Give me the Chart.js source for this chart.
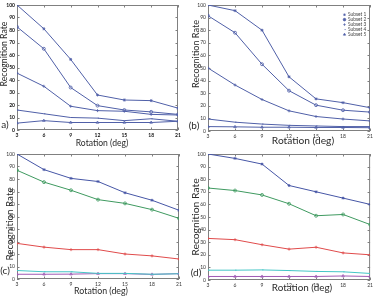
<!DOCTYPE html>
<html><head><meta charset="utf-8">
<script src="https://cdn.jsdelivr.net/npm/chart.js@4/dist/chart.umd.min.js"></script>
<style>
html,body{margin:0;padding:0;background:#fff;width:375px;height:298px;overflow:hidden;position:relative}
.p{position:absolute}
.t{position:absolute;font-family:Lato,sans-serif;color:#2a2a2a;line-height:1;white-space:nowrap;transform:translate(-50%,-50%)}
.r{transform:translate(-50%,-50%) rotate(-90deg)}
</style></head><body>
<div class="p" style="left:0;top:0;width:187px;height:149px"><canvas id="ca" width="187" height="149"></canvas></div>
<div class="p" style="left:187px;top:0;width:188px;height:149px"><canvas id="cb" width="188" height="149"></canvas></div>
<div class="p" style="left:0;top:149px;width:187px;height:149px"><canvas id="cc" width="187" height="149"></canvas></div>
<div class="p" style="left:187px;top:149px;width:188px;height:149px"><canvas id="cd" width="188" height="149"></canvas></div>

<div class="t r" style="left:4px;top:54px;font-size:8.7px">Recognition Rate</div>
<div class="t r" style="left:196px;top:54px;font-size:9.1px">Recognition Rate</div>
<div class="t r" style="left:10px;top:224px;font-size:9.8px">Recognition Rate</div>
<div class="t r" style="left:195px;top:217px;font-size:10.4px">Recognition Rate</div>

<div class="t" style="left:102px;top:143px;font-size:8.6px">Rotation (deg)</div>
<div class="t" style="left:303px;top:140px;font-size:10.2px">Rotation (deg)</div>
<div class="t" style="left:101px;top:291px;font-size:8.8px">Rotation (deg)</div>
<div class="t" style="left:302px;top:288px;font-size:9.9px">Rotation (deg)</div>

<div class="t" style="left:5px;top:124px;font-size:10px">a)</div>
<div class="t" style="left:194px;top:124.5px;font-size:10px">(b)</div>
<div class="t" style="left:5px;top:269.5px;font-size:10px">(c)</div>
<div class="t" style="left:196px;top:272px;font-size:10px">(d)</div>

<script>
// ---- data ----
const rotation = [3, 6, 9, 12, 15, 18, 21];
const xTicks = [3, 6, 9, 12, 15, 18, 21];
const yTicks = [0, 10, 20, 30, 40, 50, 60, 70, 80, 90, 100];
const subsetNames = ['Subset 1', 'Subset 2', 'Subset 3', 'Subset 4', 'Subset 5'];

const a1 = [100, 81, 56.5, 28, 24, 23.5, 17.5];
const a2 = [82.5, 65, 34, 19.5, 16, 14.5, 12.5];
const a3 = [45.5, 35, 19, 15.5, 15, 12.5, 12];
const a4 = [16, 13, 10, 9.5, 7.5, 9, 7];
const a5 = [5.5, 7.5, 6, 6, 6, 6, 7];

const b1 = [100, 95.5, 80, 43, 25.5, 22.5, 18.5];
const b2 = [91.5, 78, 53, 32, 20.5, 16.5, 15];
const b3 = [50, 36.5, 25, 16, 11.5, 9.5, 8];
const b4 = [9.5, 7, 5.5, 4.5, 4, 3.5, 3.5];
const b5 = [3.5, 3.3, 3, 3, 2.8, 2.8, 2.6];

const c1 = [100, 87.5, 80.5, 78, 69, 63, 55];
const c2 = [87, 77.5, 71, 63.5, 60.5, 55.5, 48.5];
const c3 = [28.5, 25.5, 23.5, 23.5, 20, 18.5, 16];
const c4 = [6.8, 5.8, 5.8, 4.5, 4.5, 3.8, 4.2];
const c5 = [3.8, 3.8, 3.9, 4.3, 4.3, 3.7, 4.3];

const d1 = [100, 96.5, 92, 75, 70, 65, 60];
const d2 = [73, 71, 67.5, 60.5, 51, 52, 44];
const d3 = [33, 32, 28, 24.5, 26, 21.5, 20];
const d4 = [7.8, 7.8, 8, 7.5, 6.8, 6.5, 5.2];
const d5 = [2.8, 2.8, 2.8, 2.8, 2.8, 3.2, 2.8];

// ---- styles ----
const markerStyles = ['star', 'circle', 'cross', 'dash', 'triangle'];
const blueAll = ['#5060a8', '#5060a8', '#5060a8', '#5060a8', '#5060a8'];
const matlabColors = ['#4656a6', '#3f9a60', '#e04b4b', '#45c6c6', '#a05ab4'];

const boxPlugin = {
  id: 'box',
  beforeDatasetsDraw(chart) {
    const {ctx, chartArea: {left, right, top, bottom}, scales: {x, y}} = chart;
    ctx.save();
    ctx.strokeStyle = '#808080';
    ctx.lineWidth = 1;
    ctx.strokeRect(left + 0.5, top + 0.5, right - left - 1, bottom - top - 1);
    ctx.beginPath();
    x.ticks.forEach(t => {
      const px = Math.round(x.getPixelForValue(t.value)) + 0.5;
      ctx.moveTo(px, bottom); ctx.lineTo(px, bottom - 2.5);
      ctx.moveTo(px, top); ctx.lineTo(px, top + 2.5);
    });
    y.ticks.forEach(t => {
      const py = Math.round(y.getPixelForValue(t.value)) + 0.5;
      ctx.moveTo(left, py); ctx.lineTo(left + 2.5, py);
      ctx.moveTo(right, py); ctx.lineTo(right - 2.5, py);
    });
    ctx.stroke();
    ctx.restore();
  }
};

const legendPlugin = {
  id: 'innerLegend',
  afterDraw(chart, args, opts) {
    if (!opts || !opts.show) return;
    const ctx = chart.ctx;
    ctx.save();
    ctx.font = '4.8px Lato, sans-serif';
    ctx.fillStyle = '#444';
    ctx.textBaseline = 'middle';
    chart.data.datasets.forEach((ds, i) => {
      const yy = opts.y0 + i * opts.dy;
      ctx.strokeStyle = ds.borderColor;
      ctx.fillStyle = ds.borderColor;
      ctx.lineWidth = 0.7;
      Chart.helpers.drawPoint(ctx, {pointStyle: ds.pointStyle, radius: 1.3, rotation: 0, borderWidth: 0.7}, opts.x0, yy);
      ctx.fillStyle = '#444';
      ctx.fillText(ds.label, opts.x0 + 3.5, yy);
    });
    ctx.restore();
  }
};

function makePanel(id, series, colors, o) {
  const datasets = series.map((vals, i) => ({
    label: subsetNames[i],
    data: vals.map((v, k) => ({x: rotation[k], y: v})),
    borderColor: colors[i],
    backgroundColor: 'rgba(0,0,0,0)',
    pointBackgroundColor: 'rgba(0,0,0,0)',
    pointBorderColor: colors[i],
    borderWidth: 1,
    pointStyle: markerStyles[i],
    pointRadius: 1.5,
    pointBorderWidth: 0.8,
    tension: 0
  }));
  const tickFont = {family: 'Lato, sans-serif', size: 5, weight: o.bold ? 'bold' : 'normal'};
  return new Chart(document.getElementById(id), {
    type: 'line',
    data: {datasets},
    options: {
      responsive: false, animation: false, devicePixelRatio: 1,
      layout: {padding: {left: 0, top: o.top, right: o.right, bottom: 0}},
      plugins: {legend: {display: false}, tooltip: {enabled: false}, innerLegend: o.legend || {show: false}},
      scales: {
        x: {
          type: 'linear', min: 3, max: 21,
          afterBuildTicks: s => { s.ticks = xTicks.map(v => ({value: v})); },
          afterFit: s => { s.height = o.xh; },
          grid: {display: false, drawTicks: false}, border: {display: false},
          ticks: {font: tickFont, color: o.tickColor, padding: 2, maxRotation: 0, autoSkip: false}
        },
        y: {
          type: 'linear', min: 0, max: 100,
          afterBuildTicks: s => { s.ticks = yTicks.map(v => ({value: v})); },
          afterFit: s => { s.width = o.yw; },
          grid: {display: false, drawTicks: false}, border: {display: false},
          ticks: {font: tickFont, color: o.tickColor, padding: 2, autoSkip: false}
        }
      }
    },
    plugins: [boxPlugin, legendPlugin]
  });
}

makePanel('ca', [a1, a2, a3, a4, a5], blueAll, {top: 4, right: 9, xh: 19, yw: 17, bold: true, tickColor: '#111'});
makePanel('cb', [b1, b2, b3, b4, b5], blueAll, {top: 4, right: 5, xh: 18, yw: 21, bold: false, tickColor: '#333',
  legend: {show: true, x0: 157.5, y0: 14.7, dy: 4.95}});
makePanel('cc', [c1, c2, c3, c4, c5], matlabColors, {top: 2, right: 8, xh: 19, yw: 17, bold: false, tickColor: '#333'});
makePanel('cd', [d1, d2, d3, d4, d5], matlabColors, {top: 2, right: 4, xh: 18, yw: 21, bold: false, tickColor: '#333'});
</script>
</body></html>
